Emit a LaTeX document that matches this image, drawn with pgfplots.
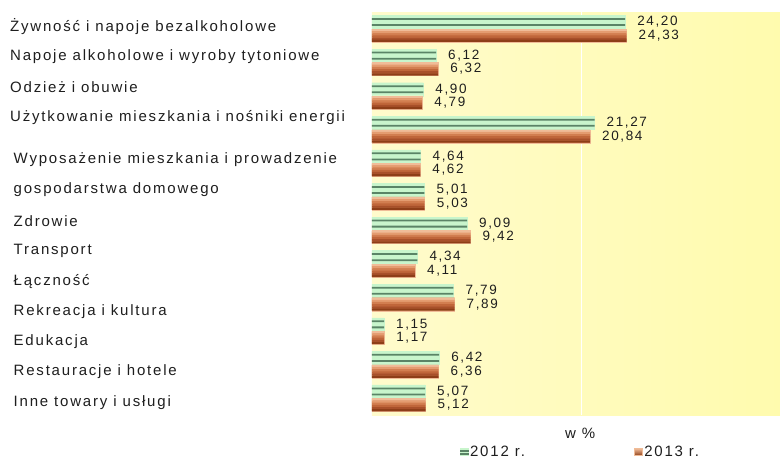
\documentclass[border=0pt]{standalone}
\usepackage{pgfplots}
\usepackage{pgfplotstable}
\pgfplotsset{compat=1.18}
\usepackage{fontspec}
\setmainfont[LetterSpace=12]{Liberation Sans}

\definecolor{gl}{HTML}{C8F5CC}
\definecolor{gd}{HTML}{5A8466}
\definecolor{o1}{HTML}{F0BC98}
\definecolor{o2}{HTML}{E49C70}
\definecolor{o3}{HTML}{D27E50}
\definecolor{o4}{HTML}{C0663A}
\definecolor{o5}{HTML}{A8502A}
\definecolor{o6}{HTML}{8E3E18}
\definecolor{bgL}{HTML}{FFFBCC}
\definecolor{bgR}{HTML}{FFFBAE}
\definecolor{txt}{HTML}{1E1E1E}

\newcommand\lab{\fontsize{15}{17}\selectfont}
\newcommand\val{\fontsize{13.5}{15}\selectfont}

% y  y2012  y2013
\pgfplotstableread{
y   a     b
0   24.20 24.33
1   6.12  6.32
2   4.90  4.79
3   21.27 20.84
4   4.64  4.62
5   5.01  5.03
6   9.09  9.42
7   4.34  4.11
8   7.79  7.89
9   1.15  1.17
10  6.42  6.36
11  5.07  5.12
}\data

\begin{document}
\begin{tikzpicture}
\useasboundingbox (-372pt,-44pt) rectangle (408pt,415pt);
\begin{axis}[
    at={(0,0)}, anchor=south west,
    scale only axis,
    width=408pt, height=403pt,
    xbar, bar width=13pt,
    xmin=0, xmax=39,
    ymin=-0.5, ymax=11.5,
    y dir=reverse,
    axis background/.style={left color=bgL, middle color=white, right color=bgR},
    axis line style={draw=none},
    major tick length=0pt,
    xtick={20}, xticklabels={},
    xmajorgrids, grid style={white, line width=1pt},
    ytick={-0.053,0.840,1.733,2.657,3.907,4.801,5.724,6.617,7.511,8.434,9.327,10.221,11.144},
    yticklabels={
      {Żywność i napoje bezalkoholowe},
      {Napoje alkoholowe i wyroby tytoniowe},
      {Odzież i obuwie},
      {Użytkowanie mieszkania i nośniki energii},
      {\hspace*{3.5pt}Wyposażenie mieszkania i prowadzenie},
      {\hspace*{3.5pt}gospodarstwa domowego},
      {\hspace*{3.5pt}Zdrowie},
      {\hspace*{3.5pt}Transport},
      {\hspace*{3.5pt}Łączność},
      {\hspace*{3.5pt}Rekreacja i kultura},
      {\hspace*{3.5pt}Edukacja},
      {\hspace*{3.5pt}Restauracje i hotele},
      {\hspace*{3.5pt}Inne towary i usługi}},
    yticklabel style={anchor=west, xshift=-362pt, inner sep=0pt, font=\lab, text=txt},
    nodes near coords style={anchor=west, xshift=12pt, inner sep=0pt, font=\val, text=txt,
      /pgf/number format/.cd, fixed, fixed zerofill, precision=2, use comma, assume math mode=true},
    xlabel={w \%},
    xlabel style={at={(axis description cs:0.51,-0.045)}, anchor=center, font=\lab, text=txt},
    legend columns=2,
    legend style={at={(axis description cs:0.511,-0.092)}, anchor=center, draw=none, fill=none,
      font=\lab, text=txt, /tikz/every even column/.append style={column sep=107pt},
      nodes={inner sep=2pt}},
]
% 2012: light green bar with two dark stripes
\addplot[fill=gl, draw=gl, line width=0.3pt, bar shift=6.75pt, nodes near coords,
  legend image code/.code={\fill[gl] (0pt,-3.5pt) rectangle (8pt,3.5pt);
    \fill[gd] (0pt,1pt) rectangle (8pt,2pt); \fill[gd] (0pt,-2pt) rectangle (8pt,-1pt);}]
  table[x=a, y=y] {\data};
\addlegendentry{2012 r.}
% 2013: brown bar, light at top, dark at bottom
\addplot[fill=o3, draw=o1, line width=0.3pt, bar shift=-6.75pt, nodes near coords,
  legend image code/.code={\fill[top color=o1, bottom color=o6] (0pt,-3.5pt) rectangle (8pt,3.5pt);}]
  table[x=b, y=y] {\data};
\addlegendentry{2013 r.}
\addplot[forget plot, fill=gd, draw=none, bar width=1.8pt, bar shift=9.8pt] table[x=a, y=y] {\data};
\addplot[forget plot, fill=gd, draw=none, bar width=1.8pt, bar shift=3.7pt] table[x=a, y=y] {\data};
\addplot[forget plot, fill=o1, draw=none, bar width=2.2pt, bar shift=-1.35pt] table[x=b, y=y] {\data};
\addplot[forget plot, fill=o2, draw=none, bar width=2.2pt, bar shift=-3.45pt] table[x=b, y=y] {\data};
\addplot[forget plot, fill=o3, draw=none, bar width=2.2pt, bar shift=-5.6pt] table[x=b, y=y] {\data};
\addplot[forget plot, fill=o4, draw=none, bar width=2.2pt, bar shift=-7.75pt] table[x=b, y=y] {\data};
\addplot[forget plot, fill=o5, draw=none, bar width=2.2pt, bar shift=-9.9pt] table[x=b, y=y] {\data};
\addplot[forget plot, fill=o6, draw=none, bar width=2.2pt, bar shift=-12.05pt] table[x=b, y=y] {\data};
\end{axis}
\end{tikzpicture}
\end{document}
